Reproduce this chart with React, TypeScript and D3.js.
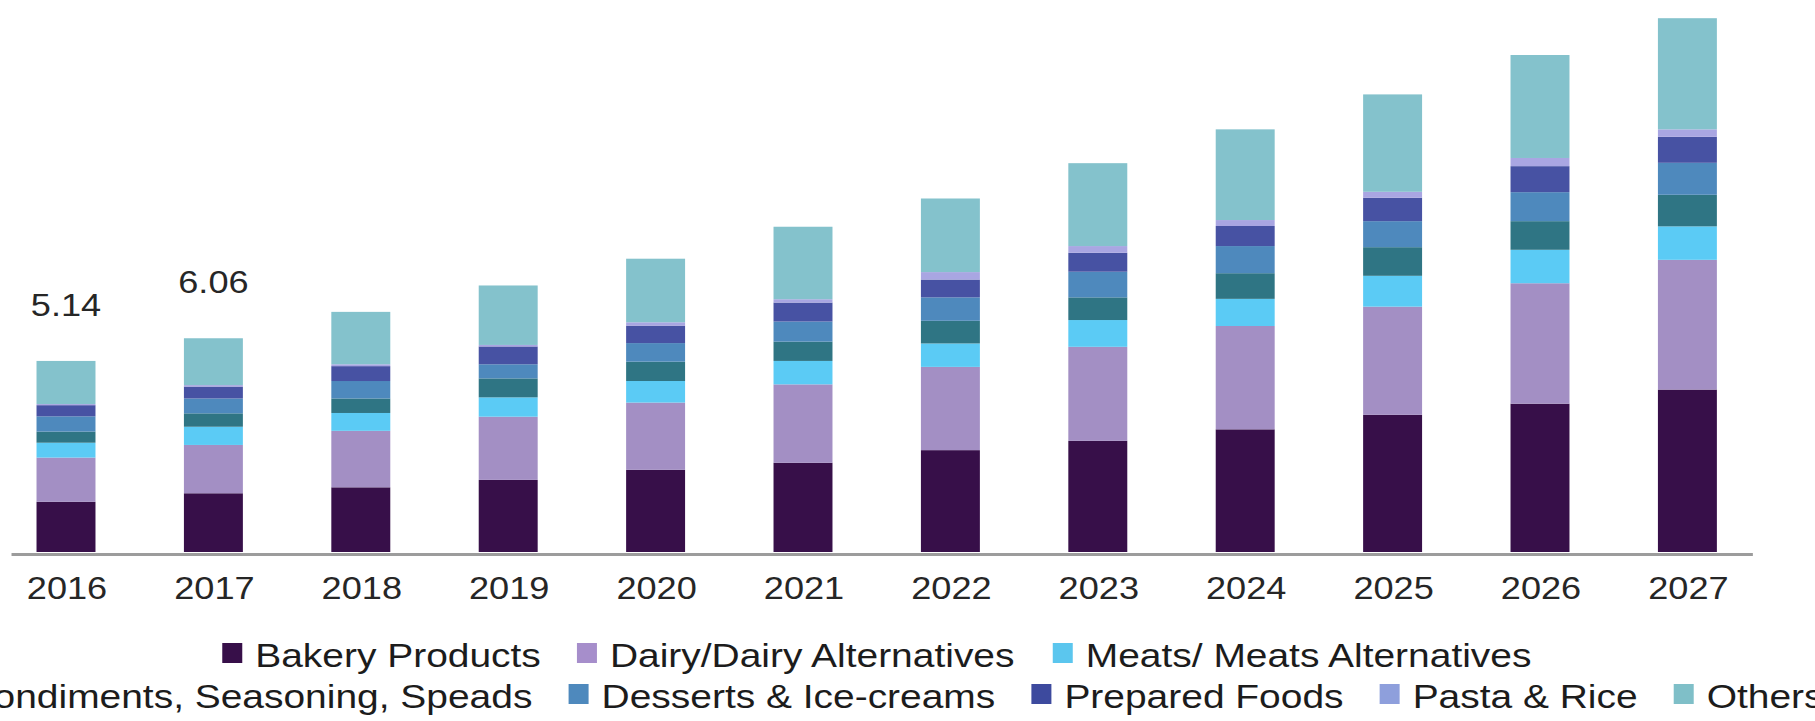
import React from 'react';
import * as d3 from 'd3';

const years = ['2016', '2017', '2018', '2019', '2020', '2021', '2022', '2023', '2024', '2025', '2026', '2027'];

const bakery = [1.35, 1.58, 1.74, 1.94, 2.21, 2.40, 2.74, 2.99, 3.30, 3.69, 3.99, 4.37];
const dairy = [1.19, 1.30, 1.52, 1.70, 1.81, 2.11, 2.24, 2.53, 2.78, 2.91, 3.24, 3.49];
const meats = [0.40, 0.49, 0.48, 0.52, 0.58, 0.63, 0.63, 0.72, 0.73, 0.83, 0.90, 0.90];
const condiments = [0.30, 0.36, 0.39, 0.51, 0.52, 0.52, 0.61, 0.61, 0.69, 0.77, 0.77, 0.85];
const desserts = [0.41, 0.40, 0.47, 0.38, 0.50, 0.54, 0.63, 0.69, 0.73, 0.70, 0.78, 0.86];
const prepared = [0.30, 0.32, 0.40, 0.48, 0.47, 0.51, 0.48, 0.51, 0.54, 0.63, 0.70, 0.70];
const pasta = [0.03, 0.04, 0.05, 0.04, 0.09, 0.09, 0.20, 0.18, 0.16, 0.16, 0.22, 0.20];
const others = [1.16, 1.26, 1.41, 1.60, 1.71, 1.95, 1.98, 2.23, 2.44, 2.62, 2.77, 2.99];

const seriesNames = [
  'Bakery Products',
  'Dairy/Dairy Alternatives',
  'Meats/ Meats Alternatives',
  'Condiments, Seasoning, Speads',
  'Desserts & Ice-creams',
  'Prepared Foods',
  'Pasta & Rice',
  'Others',
];
const seriesColors = ['#370F49', '#A38FC4', '#5BCBF5', '#2F7584', '#4E89BD', '#4752A3', '#A9A6E2', '#84C2CC'];
const legendColors = ['#370F49', '#A68ECB', '#5BC6EE', '#2F7584', '#4E89BD', '#3D4A9E', '#8E9FDC', '#7FBFC8'];

const valueLabels = ['5.14', '6.06', '', '', '', '', '', '', '', '', '', ''];
const legendRows = [[0, 1, 2], [3, 4, 5, 6, 7]];

const FONT = '"Liberation Sans", Arial, Helvetica, sans-serif';

function measure(text: string, size: number): number {
  const c = document.createElement('canvas').getContext('2d');
  if (!c) return text.length * size * 0.55;
  c.font = `${size}px "Liberation Sans", Arial, sans-serif`;
  return c.measureText(text).width;
}

export default function App() {
  const W = 1815;
  const H = 721;
  const seriesValues = [bakery, dairy, meats, condiments, desserts, prepared, pasta, others];

  const rows = years.map((yr, i) => {
    const r: any = { year: yr };
    seriesNames.forEach((n, k) => (r[n] = seriesValues[k][i]));
    return r;
  });
  const stacked = d3.stack<any>().keys(seriesNames)(rows);

  const x = d3.scaleBand<string>().domain(years).range([-7.7, 1761.1]).paddingInner(0.6).paddingOuter(0.3);
  const y = d3.scaleLinear().domain([0, 14.5]).range([552, 13]);
  const bw = x.bandwidth();

  const axisX0 = (x(years[0]) as number) - 25;
  const axisX1 = (x(years[years.length - 1]) as number) + bw + 36;

  const totals = years.map((_, i) => seriesValues.reduce((s, arr) => s + arr[i], 0));

  // legend layout
  const LS = 33;
  const LSX = 1.18;
  const markerSize = 20;
  const markerGap = 13;
  const itemGap = 36;
  const legendCenter = 878;
  const rowBaselines = [667, 708];
  const legendItems: any[] = [];
  legendRows.forEach((row, ri) => {
    const widths = row.map((k) => measure(seriesNames[k], LS) * LSX);
    const total = widths.reduce((s, w) => s + w + markerSize + markerGap, 0) + itemGap * (row.length - 1);
    let cx = legendCenter - total / 2;
    row.forEach((k, j) => {
      legendItems.push({ k, mx: cx, tx: cx + markerSize + markerGap, base: rowBaselines[ri] });
      cx += markerSize + markerGap + widths[j] + itemGap;
    });
  });

  return (
    <svg
      width={W}
      height={H}
      style={{ position: 'absolute', left: 0, top: 0, background: '#fff' }}
      fontFamily={FONT}
    >
      <rect x={0} y={0} width={W} height={H} fill="#fff" />
      {stacked.map((s, k) => (
        <g key={seriesNames[k]} fill={seriesColors[k]}>
          {s.map((d, i) => (
            <rect
              key={years[i]}
              x={x(years[i])}
              y={y(d[1])}
              width={bw}
              height={Math.max(0, y(d[0]) - y(d[1]))}
            />
          ))}
        </g>
      ))}
      <line x1={axisX0} x2={axisX1} y1={554.5} y2={554.5} stroke="#9c9c9c" strokeWidth={3} />
      {years.map((yr) => (
        <text
          key={yr}
          transform={`translate(${(x(yr) as number) + bw / 2 + 1},599) scale(1.13,1)`}
          textAnchor="middle"
          fontSize={32}
          fill="#262626"
        >
          {yr}
        </text>
      ))}
      {valueLabels.map((lab, i) =>
        lab ? (
          <text
            key={'v' + i}
            transform={`translate(${(x(years[i]) as number) + bw / 2},${y(totals[i]) - 45}) scale(1.13,1)`}
            textAnchor="middle"
            fontSize={32}
            fill="#262626"
          >
            {lab}
          </text>
        ) : null
      )}
      {legendItems.map((it) => (
        <g key={'l' + it.k}>
          <rect x={it.mx} y={it.base - 24} width={markerSize} height={markerSize} fill={legendColors[it.k]} />
          <text transform={`translate(${it.tx},${it.base}) scale(${LSX},1)`} fontSize={LS} fill="#1c1c1c">
            {seriesNames[it.k]}
          </text>
        </g>
      ))}
    </svg>
  );
}
